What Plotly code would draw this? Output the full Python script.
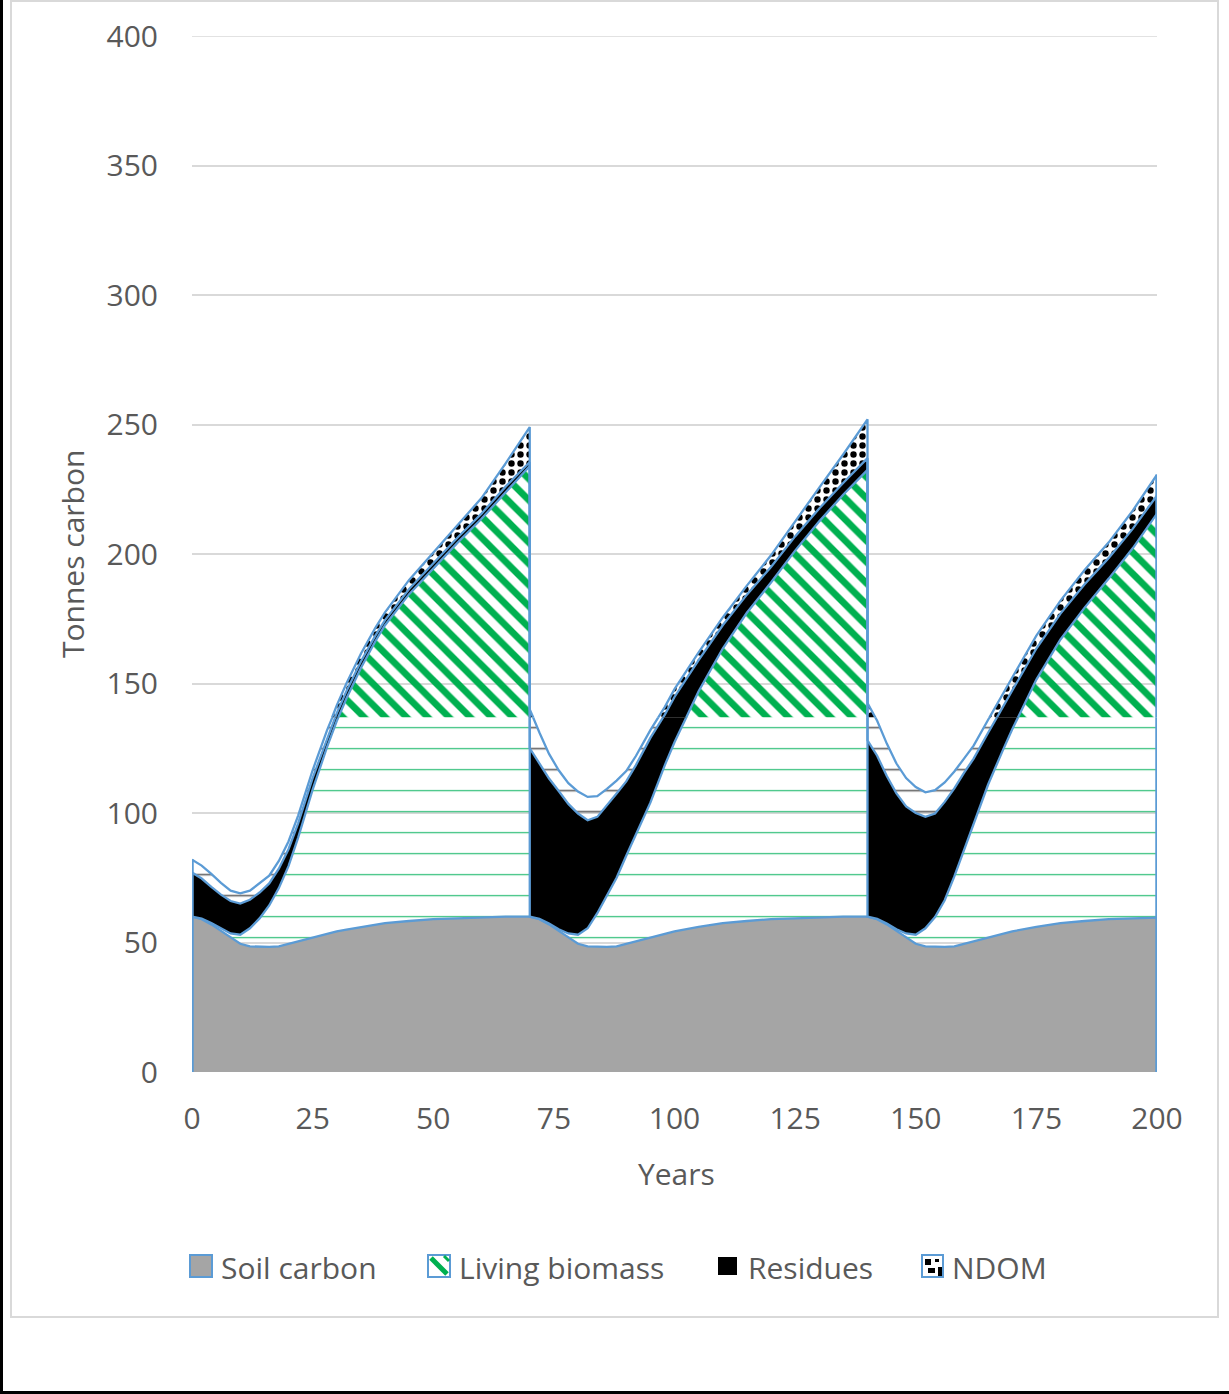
import numpy as np
import plotly.graph_objects as go

# ---------------- data ----------------
years = [0, 2, 4, 6, 8, 10, 12, 14, 16, 18, 20, 22, 25, 28, 30, 32, 35, 38, 40, 45, 50, 55, 60, 65, 70,
         70, 72, 74, 76, 78, 80, 82, 84, 86, 88, 90, 92, 95, 98, 100, 105, 110, 115, 120, 125, 130, 135, 140,
         140, 142, 144, 146, 148, 150, 152, 154, 156, 158, 160, 162, 165, 168, 170, 175, 180, 185, 190, 195, 200]

soil_carbon = [60, 59, 57, 54.5, 52, 49.5, 48.5, 48.3, 48.3, 48.5, 49.5, 50.5, 52, 53.5, 54.3, 55, 56, 57, 57.5, 58.3, 59, 59.3, 59.6, 60, 60,
               60, 59, 57, 54.5, 52, 49.5, 48.5, 48.3, 48.3, 48.5, 49.5, 50.5, 52, 53.5, 54.3, 56, 57.5, 58.3, 59, 59.3, 59.6, 60, 60,
               60, 59, 57, 54.5, 52, 49.5, 48.5, 48.3, 48.3, 48.5, 49.5, 50.5, 52, 53.5, 54.3, 56, 57.5, 58.3, 59, 59.3, 59.6]

living_biomass = [0, 0.2, 0.5, 1, 1.5, 3.5, 7, 11, 16, 22.5, 30, 40, 57, 72, 81.2, 89.2, 100, 109.3, 115, 126.2, 135.5, 145, 154, 164, 174,
                  0, 0.1, 0.3, 0.6, 1.5, 3.5, 7, 13, 20, 26.5, 34, 41, 52, 65, 73, 91, 106, 119, 130, 142, 153, 163, 172.5,
                  0, 0.1, 0.3, 0.6, 1.5, 3.5, 7, 11.5, 18, 27, 36, 45, 59, 70.5, 78, 95.5, 109.5, 121, 131.5, 143, 156]

residues = [17, 15.5, 14, 13, 12.5, 12, 11, 10, 8.5, 7.5, 6.5, 5.5, 4.5, 3.5, 3, 2.8, 2.5, 2.2, 2, 2, 2, 2, 2, 2, 1.5,
            65, 60, 56, 53.4, 50, 46.8, 41.7, 37.2, 34.5, 32.5, 28.7, 27, 25, 19.5, 17.5, 12, 9, 7, 6, 5.5, 5, 4.5, 4.5,
            68, 63, 57, 52.5, 49, 47, 43, 40, 38, 34, 30, 25.5, 20, 16.5, 15, 12, 10, 9, 8, 7.5, 7]

ndom = [5, 5, 5, 4.5, 4, 4, 3.5, 3.5, 3, 3, 3, 3, 3, 3, 3, 3, 3, 3, 3, 3.5, 4, 5, 6, 9, 13.5,
        15, 12, 9.5, 8, 8, 8.5, 9, 8, 6.5, 5, 4, 3.5, 3, 3, 3, 3, 3, 3.5, 4.5, 6, 8, 11, 15,
        14.5, 13.5, 12.5, 11.5, 11, 10, 9.5, 9, 7.5, 6.5, 5.5, 5, 5, 5, 5, 5, 5, 5.5, 6, 7, 8]

series_names = ["Soil carbon", "Living biomass", "Residues", "NDOM"]
x_ticks = [0, 25, 50, 75, 100, 125, 150, 175, 200]
y_ticks_lower = [0, 50, 100]
y_ticks_upper = [150, 200, 250, 300, 350, 400]
x_title = "Years"
y_title = "Tonnes carbon"

# ---------------- style ----------------
BLUE = "#5B9BD5"
GREEN = "#00B050"
GRAY = "#A5A5A5"
TEXT = "#595959"
GRID = "#D9D9D9"
FONT = "Open Sans"
FS = 30
CLEAR = "rgba(0,0,0,0)"

W, H = 1229, 1394
L, R, T, B = 192, 72, 36, 322
PW, PH = W - L - R, H - T - B
Y_MAX = 400
SPLIT = 137  # level where the pattern rendering of the original changes
f_split = SPLIT / Y_MAX


def px(x):
    return (x - L) / PW


def py(y):
    return (H - B - y) / PH


top_soil = np.array(soil_carbon, float)
top_living = top_soil + np.array(living_biomass, float)
top_res = top_living + np.array(residues, float)
top_ndom = top_res + np.array(ndom, float)

fig = go.Figure()
line = dict(color=BLUE, width=2.3)

for axis in ("y", "y2"):
    lower = axis == "y"
    if lower:
        living_pat = dict(shape="-", fgcolor="#33C07A", fgopacity=1, bgcolor=CLEAR, size=21, solidity=0.06)
        ndom_pat = dict(shape="-", fgcolor="#666666", fgopacity=1, bgcolor=CLEAR, size=21, solidity=0.08)
    else:
        living_pat = dict(shape="\\", fgcolor=GREEN, fgopacity=1, bgcolor=CLEAR, size=15, solidity=0.45)
        ndom_pat = dict(shape=".", fgcolor="black", fgopacity=1, bgcolor=CLEAR, size=9, solidity=0.4)

    fig.add_trace(go.Scatter(x=years, y=top_soil, yaxis=axis, mode="lines", line=line,
                             fill="tozeroy", fillcolor=GRAY, name=series_names[0],
                             showlegend=False, hoverinfo="skip"))
    fig.add_trace(go.Scatter(x=years, y=top_living, yaxis=axis, mode="lines", line=line,
                             fill="tonexty", fillcolor=CLEAR, fillpattern=living_pat,
                             name=series_names[1], showlegend=False, hoverinfo="skip"))
    fig.add_trace(go.Scatter(x=years, y=top_res, yaxis=axis, mode="lines", line=line,
                             fill="tonexty", fillcolor="black", name=series_names[2],
                             showlegend=False, hoverinfo="skip"))
    fig.add_trace(go.Scatter(x=years, y=top_ndom, yaxis=axis, mode="lines", line=line,
                             fill="tonexty", fillcolor=CLEAR, fillpattern=ndom_pat,
                             name=series_names[3], showlegend=False, hoverinfo="skip"))
    # vertical outline edges at the first and last year
    fig.add_trace(go.Scatter(x=[years[0], years[0]], y=[0, top_ndom[0]], yaxis=axis,
                             mode="lines", line=dict(color=BLUE, width=3.5),
                             showlegend=False, hoverinfo="skip"))
    fig.add_trace(go.Scatter(x=[years[-1], years[-1]], y=[0, top_ndom[-1]], yaxis=axis,
                             mode="lines", line=dict(color=BLUE, width=3.5),
                             showlegend=False, hoverinfo="skip"))

tickfont = dict(family=FONT, size=FS, color=TEXT)
fig.update_layout(
    width=W, height=H,
    margin=dict(l=L, r=R, t=T, b=B),
    paper_bgcolor="white", plot_bgcolor="white",
    showlegend=False,
    xaxis=dict(domain=[0, 1], range=[0, 200], tickvals=x_ticks, showgrid=False, zeroline=False,
               ticks="outside", ticklen=20, tickcolor=CLEAR, tickfont=tickfont, anchor="y",
               showline=False, fixedrange=True),
    yaxis=dict(domain=[0, f_split], range=[0, SPLIT], tickvals=y_ticks_lower, showgrid=True,
               gridcolor=GRID, gridwidth=1.5, zeroline=False, ticks="outside", ticklen=27,
               tickcolor=CLEAR, tickfont=tickfont, anchor="x", showline=False),
    yaxis2=dict(domain=[f_split, 1], range=[SPLIT, Y_MAX], tickvals=y_ticks_upper, showgrid=True,
                gridcolor=GRID, gridwidth=1.5, zeroline=False, ticks="outside", ticklen=27,
                tickcolor=CLEAR, tickfont=tickfont, anchor="x", showline=False),
)

annotations = [
    dict(text=y_title, x=px(72), y=0.5, xref="paper", yref="paper", showarrow=False,
         textangle=-90, xanchor="center", yanchor="middle", font=dict(family=FONT, size=FS, color=TEXT)),
    dict(text=x_title, x=px(676), y=py(1173), xref="paper", yref="paper", showarrow=False,
         xanchor="center", yanchor="middle", font=dict(family=FONT, size=FS, color=TEXT)),
]
legend_text_x = [219, 457, 746, 950]
for name, lx in zip(series_names, legend_text_x):
    annotations.append(dict(text=name, x=px(lx), y=py(1267), xref="paper", yref="paper",
                            showarrow=False, xanchor="left", yanchor="middle",
                            font=dict(family=FONT, size=FS, color=TEXT)))
fig.update_layout(annotations=annotations)


def rect(x0, y0, x1, y1, **kw):
    return dict(type="rect", xref="paper", yref="paper", x0=px(x0), x1=px(x1), y0=py(y0), y1=py(y1), **kw)


def seg(x0, y0, x1, y1, **kw):
    return dict(type="line", xref="paper", yref="paper", x0=px(x0), x1=px(x1), y0=py(y0), y1=py(y1), **kw)


shapes = [
    # top gridline at the end of the value axis
    dict(type="line", xref="paper", yref="y2", x0=0, x1=1, y0=y_ticks_upper[-1], y1=y_ticks_upper[-1],
         line=dict(color=GRID, width=1.5), layer="below"),
    # chart area border and outer frame
    rect(11, 1, 1218, 1317, line=dict(color=GRID, width=2), fillcolor=CLEAR),
    rect(0, 0, 3, H, line=dict(width=0), fillcolor="black"),
    rect(0, H - 3, W, H, line=dict(width=0), fillcolor="black"),
    # legend: soil carbon
    rect(190, 1255, 212, 1277, line=dict(color=BLUE, width=2), fillcolor=GRAY),
    # legend: living biomass
    rect(428, 1255, 450, 1277, line=dict(color=BLUE, width=2), fillcolor="white"),
    seg(431, 1258, 447, 1274, line=dict(color=GREEN, width=5)),
    seg(444, 1256, 449, 1261, line=dict(color=GREEN, width=3)),
    # legend: residues
    rect(718, 1257, 737, 1275, line=dict(width=0), fillcolor="black"),
    # legend: NDOM
    rect(922, 1255, 943, 1277, line=dict(color=BLUE, width=2), fillcolor="white"),
    rect(925, 1259, 931, 1265, line=dict(width=0), fillcolor="black"),
    rect(935, 1259, 939, 1262, line=dict(width=0), fillcolor="black"),
    rect(928, 1268, 935, 1273, line=dict(width=0), fillcolor="black"),
    rect(938, 1267, 942, 1276, line=dict(width=0), fillcolor="black"),
]
fig.update_layout(shapes=shapes)

fig.write_html("out.html", config={"displayModeBar": False},
               post_script="document.body.style.margin='0';document.body.style.overflow='hidden';")
